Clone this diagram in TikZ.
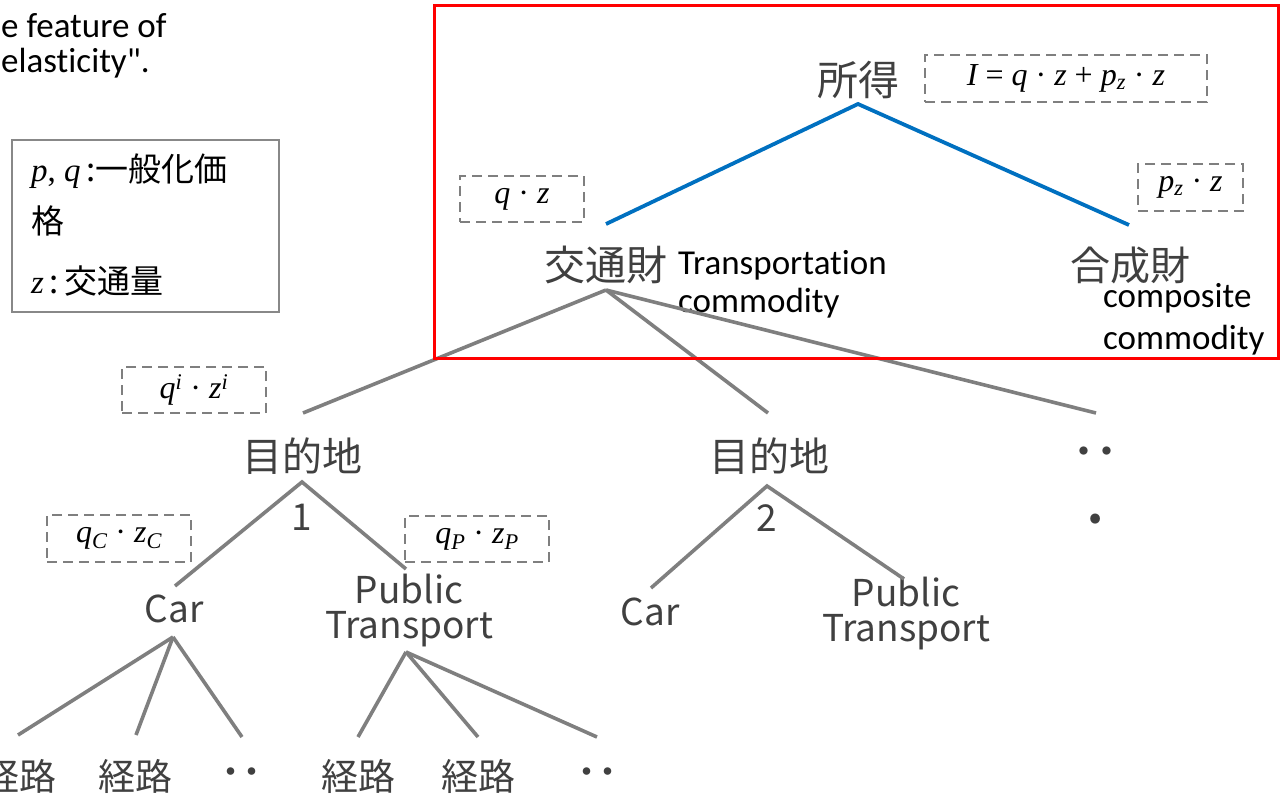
\documentclass[tikz,border=0pt]{standalone}
\usepackage{fontspec}
\setmainfont[Ligatures=NoCommon]{Carlito}
\newfontfamily\jpfont{Noto Sans CJK JP}
\newfontfamily\calfont[Ligatures=NoCommon]{Carlito}
\newfontfamily\mathtextfont{Liberation Serif}
\newcommand\myit[1]{{\itshape #1}}
\definecolor{lgray}{HTML}{7F7F7F}
\definecolor{tgray}{HTML}{404040}
\definecolor{blueline}{HTML}{0070C0}
\definecolor{boxgray}{HTML}{888888}
\begin{document}
\begin{tikzpicture}[x=1pt,y=-1pt,
  tree/.style={draw=lgray, line width=3.6pt},
  bl/.style={draw=blueline, line width=3.8pt},
  dbox/.style={draw=lgray, line width=2.5pt, dash pattern=on 10pt off 6pt, inner sep=0pt, font=\mathtextfont\fontsize{32}{36}\selectfont},
  jlab/.style={text=tgray, font=\jpfont\fontsize{40}{48}\selectfont, inner sep=0pt},
  rlab/.style={text=tgray, font=\jpfont\fontsize{37}{44}\selectfont, inner sep=0pt},
  elab/.style={text=tgray, font=\jpfont\fontsize{37}{35}\selectfont, inner sep=0pt, align=center},
  clab/.style={text=black, font=\calfont\fontsize{35}{39}\selectfont, inner sep=0pt, anchor=base west},
  leg/.style={text=black, font=\jpfont\fontsize{33}{40}\selectfont, inner sep=0pt, anchor=base west},
  dotlab/.style={text=tgray, font=\jpfont\bfseries\fontsize{46}{48}\selectfont, inner sep=0pt},
]
\useasboundingbox (0,0) rectangle (1281,795);

% top-left text
\node[clab] (tl1) at (1,37) {e feature of};
\node[clab] (tl2) at (1,72) {elasticity".};

% legend
\node[draw=boxgray, line width=2.2pt, minimum width=267pt, minimum height=172pt, inner sep=0pt] (legend) at (145.5,226) {};
\node[leg] (leg1) at (31,181) {{\mathtextfont\myit{p}, \myit{q}}\,:一般化価};
\node[leg] (leg2) at (31,233) {格};
\node[leg] (leg3) at (31,293) {{\mathtextfont\myit{z}}\,:\,交通量};

% upper level
\node[jlab, font=\jpfont\fontsize{41}{48}\selectfont] (shotoku) at (858,80) {所得};
\node[dbox, minimum width=282pt, minimum height=47pt] (ibox) at (1066,78.5) {\myit{I} = \myit{q} · \myit{z} + \myit{p}\textsubscript{\myit{z}} · \myit{z}};
\node[jlab, font=\jpfont\fontsize{41}{48}\selectfont] (kotsu) at (606,265) {交通財};
\node[clab] (trans1) at (678,274) {Transportation};
\node[clab] (trans2) at (678,312) {commodity};
\node[jlab, font=\jpfont\fontsize{40}{48}\selectfont] (gousei) at (1130,265) {合成財};
\node[clab] (comp1) at (1103,307) {composite};
\node[clab] (comp2) at (1103,349) {commodity};
\node[dbox, minimum width=124pt, minimum height=46pt] (qzbox) at (522,199) {\myit{q} · \myit{z}};
\node[dbox, minimum width=105pt, minimum height=47pt] (pzbox) at (1190.5,187.5) {\myit{p}\textsubscript{\myit{z}} · \myit{z}};

% destination level
\node[dbox, minimum width=144pt, minimum height=46pt] (qibox) at (194,390) {\myit{q}\textsuperscript{\myit{i}} · \myit{z}\textsuperscript{\myit{i}}};
\node[jlab] (dest1) at (302,456) {目的地};
\node[rlab] (num1) at (302,517) {1};
\node[jlab] (dest2) at (769,456) {目的地};
\node[rlab] (num2) at (767,518) {2};
\node[dotlab] (dots1) at (1095,458) {‥};
\node[dotlab] (dots2) at (1096,519) {.};

% mode level
\node[dbox, minimum width=144pt, minimum height=47pt] (qcbox) at (119,538.5) {\myit{q}\textsubscript{\myit{C}} · \myit{z}\textsubscript{\myit{C}}};
\node[dbox, minimum width=144pt, minimum height=46pt] (qpbox) at (477,539) {\myit{q}\textsubscript{\myit{P}} · \myit{z}\textsubscript{\myit{P}}};
\node[rlab] (car1) at (174,609) {Car};
\node[elab] (pt1) at (409,611) {Public\\Transport};
\node[rlab] (car2) at (650,612) {Car};
\node[elab] (pt2) at (906,614) {Public\\Transport};

% route level
\node[rlab] (r1) at (20,776) {経路};
\node[rlab] (r2) at (135,776) {経路};
\node[dotlab, font=\jpfont\bfseries\fontsize{42}{48}\selectfont] (r3) at (241,778) {‥};
\node[rlab] (r4) at (358,776) {経路};
\node[rlab] (r5) at (478,776) {経路};
\node[dotlab, font=\jpfont\bfseries\fontsize{42}{48}\selectfont] (r6) at (597,778) {‥};

% connection points
\coordinate (sh-b) at (858,104);
\coordinate (kt-t) at (606,224);
\coordinate (gs-t) at (1129,225);
\coordinate (kt-b) at (606,290);
\coordinate (d1-t) at (303,413);
\coordinate (d2-t) at (768,413);
\coordinate (dd-t) at (1096,413);
\coordinate (d1-b) at (302,482);
\coordinate (c1-t) at (175,586);
\coordinate (p1-t) at (406,569);
\coordinate (d2-b) at (767,486);
\coordinate (c2-t) at (651,588);
\coordinate (p2-t) at (904,579);
\coordinate (c1-b) at (173,637);
\coordinate (p1-b) at (406,652);
\coordinate (r1-t) at (18,735);
\coordinate (r2-t) at (136,735);
\coordinate (r3-t) at (242,737);
\coordinate (r4-t) at (358,737);
\coordinate (r5-t) at (478,737);
\coordinate (r6-t) at (597,737);

% connectors
\draw[bl] (kt-t) -- (sh-b) -- (gs-t);
\draw[tree] (kt-b) -- (d1-t);
\draw[tree] (kt-b) -- (d2-t);
\draw[tree] (kt-b) -- (dd-t);
\draw[tree] (c1-t) -- (d1-b) -- (p1-t);
\draw[tree] (c2-t) -- (d2-b) -- (p2-t);
\draw[tree] (c1-b) -- (r1-t);
\draw[tree] (c1-b) -- (r2-t);
\draw[tree] (c1-b) -- (r3-t);
\draw[tree] (p1-b) -- (r4-t);
\draw[tree] (p1-b) -- (r5-t);
\draw[tree] (p1-b) -- (r6-t);

% red frame
\node[draw=red, line width=3pt, minimum width=844pt, minimum height=353pt, inner sep=0pt] (frame) at (856,181.5) {};
\end{tikzpicture}
\end{document}
